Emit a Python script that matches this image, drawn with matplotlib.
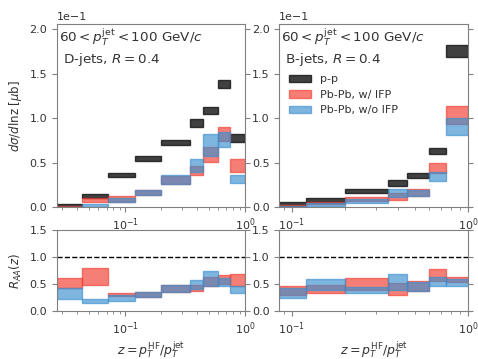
import numpy as np
import matplotlib
matplotlib.use("Agg")
import matplotlib.pyplot as plt

# bin edges in z
d_edges = [0.027, 0.044, 0.072, 0.12, 0.2, 0.35, 0.45, 0.6, 0.75, 1.0]
b_edges = [0.085, 0.12, 0.2, 0.35, 0.45, 0.6, 0.75, 1.0]

# D-jets, d sigma / d ln z (low, high) in units of 1e-1 mub
d_pp_lo = [0.005, 0.105, 0.34, 0.52, 0.70, 0.904, 1.043, 1.336, 0.735]
d_pp_hi = [0.035, 0.143, 0.386, 0.574, 0.755, 0.987, 1.129, 1.43, 0.818]
d_ifp_lo = [0.0, 0.053, 0.06, 0.135, 0.26, 0.357, 0.51, 0.743, 0.394]
d_ifp_hi = [0.01, 0.105, 0.124, 0.19, 0.35, 0.465, 0.679, 0.897, 0.537]
d_noifp_lo = [0.0, 0.005, 0.053, 0.135, 0.255, 0.394, 0.574, 0.672, 0.274]
d_noifp_hi = [0.006, 0.03, 0.105, 0.188, 0.357, 0.537, 0.818, 0.848, 0.357]

# B-jets
b_pp_lo = [0.015, 0.053, 0.154, 0.24, 0.33, 0.593, 1.69]
b_pp_hi = [0.053, 0.098, 0.199, 0.304, 0.386, 0.66, 1.82]
b_ifp_lo = [0.005, 0.03, 0.071, 0.075, 0.13, 0.386, 0.94]
b_ifp_hi = [0.02, 0.053, 0.113, 0.154, 0.2, 0.492, 1.137]
b_noifp_lo = [0.0, 0.011, 0.048, 0.116, 0.125, 0.296, 0.81]
b_noifp_hi = [0.015, 0.042, 0.09, 0.2, 0.19, 0.397, 1.0]

# R_AA
d_raa_ifp_lo = [0.43, 0.48, 0.276, 0.25, 0.356, 0.375, 0.46, 0.5, 0.46]
d_raa_ifp_hi = [0.62, 0.79, 0.326, 0.356, 0.48, 0.49, 0.63, 0.66, 0.69]
d_raa_noifp_lo = [0.22, 0.153, 0.184, 0.25, 0.356, 0.4, 0.466, 0.46, 0.34]
d_raa_noifp_hi = [0.42, 0.22, 0.295, 0.35, 0.48, 0.57, 0.737, 0.62, 0.46]
b_raa_ifp_lo = [0.29, 0.326, 0.387, 0.295, 0.37, 0.55, 0.53]
b_raa_ifp_hi = [0.47, 0.49, 0.61, 0.51, 0.55, 0.77, 0.63]
b_raa_noifp_lo = [0.245, 0.387, 0.326, 0.387, 0.37, 0.466, 0.46]
b_raa_noifp_hi = [0.43, 0.59, 0.45, 0.69, 0.54, 0.63, 0.59]

c_pp = '#111111'
c_ifp = '#f03a2e'
c_noifp = '#3a8fcf'
txt = '#333333'
spine = '#808080'

plt.rcParams['font.size'] = 8
plt.rcParams['text.color'] = txt
plt.rcParams['axes.labelcolor'] = txt
plt.rcParams['xtick.color'] = spine
plt.rcParams['ytick.color'] = spine
plt.rcParams['xtick.labelcolor'] = txt
plt.rcParams['ytick.labelcolor'] = txt
plt.rcParams['axes.edgecolor'] = spine
plt.rcParams['mathtext.default'] = 'it'


def band(ax, edges, lo, hi, color, alpha, label=None):
    e = np.array(edges)
    lo = np.array(lo)
    hi = np.array(hi)
    ax.bar(e[:-1], hi - lo, bottom=lo, width=np.diff(e), align='edge',
           color=color, edgecolor=color, alpha=alpha, lw=1, label=label)


fig = plt.figure(figsize=(4.78, 3.59), dpi=100)
ax1 = fig.add_axes([0.119, 0.423, 0.3936, 0.510])
ax2 = fig.add_axes([0.584, 0.423, 0.396, 0.510])
ax3 = fig.add_axes([0.119, 0.134, 0.3936, 0.225])
ax4 = fig.add_axes([0.584, 0.134, 0.396, 0.225])

for ax, edges, pp, ifp, noifp, name in [
        (ax1, d_edges, (d_pp_lo, d_pp_hi), (d_ifp_lo, d_ifp_hi), (d_noifp_lo, d_noifp_hi), 'D-jets'),
        (ax2, b_edges, (b_pp_lo, b_pp_hi), (b_ifp_lo, b_ifp_hi), (b_noifp_lo, b_noifp_hi), 'B-jets')]:
    band(ax, edges, np.array(pp[0]) * 0.1, np.array(pp[1]) * 0.1, c_pp, 0.8, 'p-p')
    band(ax, edges, np.array(ifp[0]) * 0.1, np.array(ifp[1]) * 0.1, c_ifp, 0.65, 'Pb-Pb, w/ IFP')
    band(ax, edges, np.array(noifp[0]) * 0.1, np.array(noifp[1]) * 0.1, c_noifp, 0.65, 'Pb-Pb, w/o IFP')
    ax.set_xscale('log')
    ax.set_xlim(edges[0], 1.0)
    ax.set_ylim(0, 0.206)
    ax.set_yticks([0, 0.05, 0.1, 0.15, 0.2])
    ax.ticklabel_format(axis='y', style='sci', scilimits=(0, 0))
    ax.tick_params(axis='y', right=True, which='both')
    ax.text(0.01, 0.985, '$60<p_T^{\\rm jet}<100$ GeV/$c$\n ' + name + ', $R=0.4$',
            transform=ax.transAxes, va='top', ha='left', fontsize=9.7, linespacing=1.25)

ax1.set_ylabel('$d\\sigma/d$lnz [$\\mu$b]', fontsize=8.5)
ax2.legend(loc='upper left', bbox_to_anchor=(0.0, 0.78), frameon=False, fontsize=8)

for ax, edges, ifp, noifp in [
        (ax3, d_edges, (d_raa_ifp_lo, d_raa_ifp_hi), (d_raa_noifp_lo, d_raa_noifp_hi)),
        (ax4, b_edges, (b_raa_ifp_lo, b_raa_ifp_hi), (b_raa_noifp_lo, b_raa_noifp_hi))]:
    band(ax, edges, ifp[0], ifp[1], c_ifp, 0.65)
    band(ax, edges, noifp[0], noifp[1], c_noifp, 0.65)
    ax.axhline(1.0, color='k', ls='--', lw=1)
    ax.set_xscale('log')
    ax.set_xlim(edges[0], 1.0)
    ax.set_ylim(0, 1.5)
    ax.set_yticks([0, 0.5, 1.0, 1.5])
    ax.tick_params(axis='y', right=True, which='both')
    ax.set_xlabel('$z = p_T^{\\rm HF}/p_T^{\\rm jet}$', fontsize=9, labelpad=1)

ax3.set_ylabel('$R_{AA}(z)$', fontsize=8.5)

fig.savefig('out.png', dpi=100)
